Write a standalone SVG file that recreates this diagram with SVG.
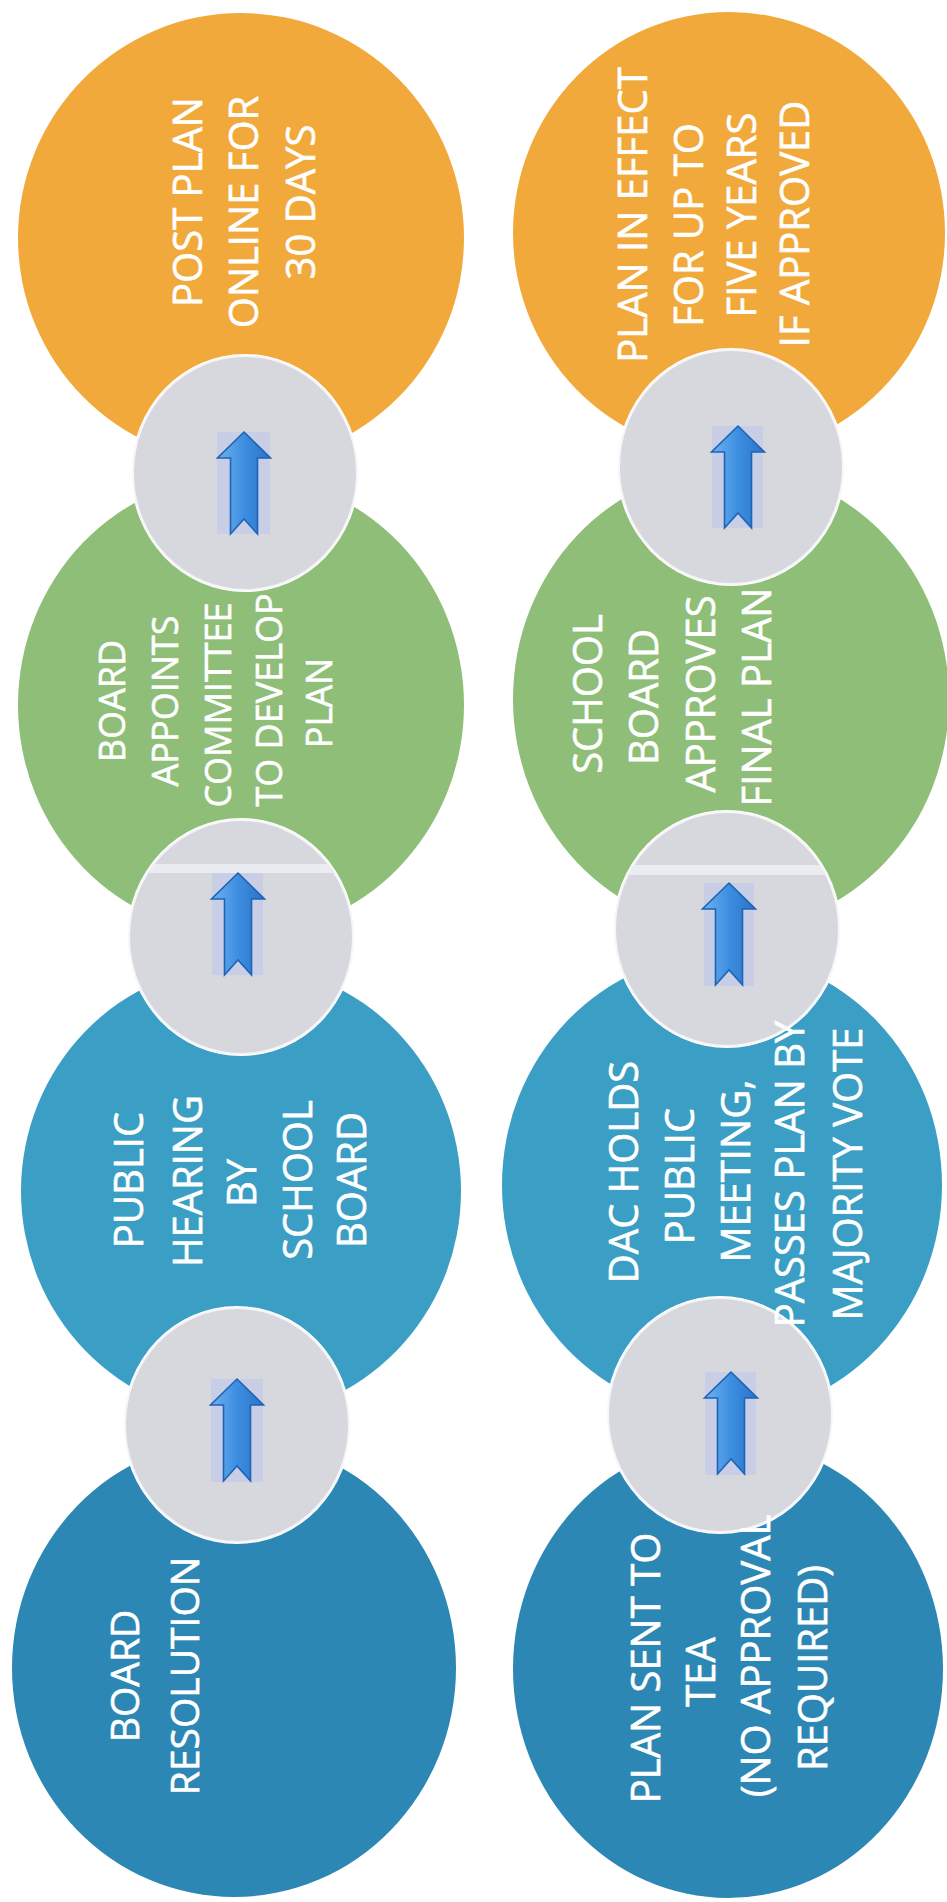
<svg xmlns="http://www.w3.org/2000/svg" xmlns:xlink="http://www.w3.org/1999/xlink" width="947" height="1902" viewBox="0 0 947 1902">
<style>
.orange{fill:#f1a93b}
.green{fill:#8ebe77}
.blue{fill:#3a9ec5}
.dblue{fill:#2d87b4}
.gray{fill:#d7d8de;stroke:#f6f6f8;stroke-width:2}
.hl{fill:#c6cce8;opacity:0.85}
.band{fill:#eceef3;opacity:0.9}
.arrow{fill:url(#arrowGrad);stroke:#1d63b6;stroke-width:1.6;stroke-linejoin:miter}
.lbl{font-family:"Open Sans","Liberation Sans",sans-serif;font-size:40px;fill:#ffffff;stroke:#ffffff;stroke-width:0.6;text-anchor:middle}
.f36{font-size:36px}
.f39{font-size:39px}
</style>
<defs>
<linearGradient id="arrowGrad" x1="0" y1="0" x2="1" y2="0">
<stop offset="0" stop-color="#6fb2ee"/>
<stop offset="0.5" stop-color="#3d8ee0"/>
<stop offset="1" stop-color="#2a72c8"/>
</linearGradient>
<path id="arrow" d="M0,0 L26.5,26 L13.5,26 L13.5,102 L0,87 L-13.5,102 L-13.5,26 L-26.5,26 Z"/>
<mask id="cut" maskUnits="userSpaceOnUse" x="0" y="0" width="947" height="1902">
<rect x="0" y="0" width="947" height="1902" fill="#fff"/>
<ellipse cx="245" cy="473" rx="114" ry="119" fill="#000"/>
<ellipse cx="241" cy="937" rx="114" ry="119" fill="#000"/>
<ellipse cx="237" cy="1425" rx="114" ry="119" fill="#000"/>
<ellipse cx="731" cy="467" rx="114" ry="119" fill="#000"/>
<ellipse cx="727" cy="929" rx="114" ry="119" fill="#000"/>
<ellipse cx="720" cy="1415" rx="114" ry="119" fill="#000"/>
</mask>
<clipPath id="cg2"><ellipse cx="241" cy="937" rx="112" ry="117"/></clipPath>
<clipPath id="cg5"><ellipse cx="727" cy="929" rx="112" ry="117"/></clipPath>
</defs>
<rect x="0" y="0" width="947" height="1902" fill="#ffffff"/>

<g id="connectors">
<g id="c1">
<ellipse class="gray" cx="245" cy="473" rx="112" ry="117"/>
<rect class="hl" x="217" y="432" width="53" height="102"/>
<use href="#arrow" class="arrow" x="244" y="432"/>
</g>
<g id="c2">
<ellipse class="gray" cx="241" cy="937" rx="112" ry="117"/>
<rect class="band" x="120" y="864" width="250" height="9" clip-path="url(#cg2)"/>
<rect class="hl" x="212" y="873" width="51" height="102"/>
<use href="#arrow" class="arrow" x="238" y="873"/>
</g>
<g id="c3">
<ellipse class="gray" cx="237" cy="1425" rx="112" ry="117"/>
<rect class="hl" x="211" y="1379" width="52" height="103"/>
<use href="#arrow" class="arrow" x="237" y="1379"/>
</g>
<g id="c4">
<ellipse class="gray" cx="731" cy="467" rx="112" ry="117"/>
<rect class="hl" x="712" y="426" width="51" height="102"/>
<use href="#arrow" class="arrow" x="738" y="426"/>
</g>
<g id="c5">
<ellipse class="gray" cx="727" cy="929" rx="112" ry="117"/>
<rect class="band" x="610" y="865" width="250" height="10" clip-path="url(#cg5)"/>
<rect class="hl" x="704" y="883" width="50" height="103"/>
<use href="#arrow" class="arrow" x="729" y="883"/>
</g>
<g id="c6">
<ellipse class="gray" cx="720" cy="1415" rx="112" ry="117"/>
<rect class="hl" x="705" y="1372" width="51" height="103" opacity="0.3"/>
<use href="#arrow" class="arrow" x="731" y="1372"/>
</g>
</g>

<g id="n-post-plan">
<ellipse class="orange" cx="241" cy="238" rx="223" ry="225" mask="url(#cut)"/>
<text class="lbl" transform="translate(202,202) rotate(-90)">POST PLAN</text>
<text class="lbl" transform="translate(258,212) rotate(-90)">ONLINE FOR</text>
<text class="lbl" transform="translate(315,202) rotate(-90)">30 DAYS</text>
</g>

<g id="n-board-appoints">
<ellipse class="green" cx="241" cy="705" rx="223" ry="230" mask="url(#cut)"/>
<text class="lbl f36" transform="translate(125,701) rotate(-90)">BOARD</text>
<text class="lbl f36" transform="translate(178,701) rotate(-90)">APPOINTS</text>
<text class="lbl f36" transform="translate(231,705) rotate(-90)">COMMITTEE</text>
<text class="lbl f36" transform="translate(282,700) rotate(-90)">TO DEVELOP</text>
<text class="lbl f36" transform="translate(332,703) rotate(-90)">PLAN</text>
</g>

<g id="n-public-hearing">
<ellipse class="blue" cx="241" cy="1191" rx="220" ry="226" mask="url(#cut)"/>
<text class="lbl" transform="translate(143,1180) rotate(-90)">PUBLIC</text>
<text class="lbl" transform="translate(202,1181) rotate(-90)">HEARING</text>
<text class="lbl" transform="translate(256,1183) rotate(-90)">BY</text>
<text class="lbl" transform="translate(312,1180) rotate(-90)">SCHOOL</text>
<text class="lbl" transform="translate(366,1180) rotate(-90)">BOARD</text>
</g>

<g id="n-board-resolution">
<ellipse class="dblue" cx="234" cy="1668" rx="222" ry="229" mask="url(#cut)"/>
<text class="lbl f39" transform="translate(139,1676) rotate(-90)">BOARD</text>
<text class="lbl f39" transform="translate(199,1676) rotate(-90)">RESOLUTION</text>
</g>

<g id="n-plan-in-effect">
<ellipse class="orange" cx="729" cy="233" rx="216" ry="221" mask="url(#cut)"/>
<text class="lbl" transform="translate(647,215) rotate(-90)">PLAN IN EFFECT</text>
<text class="lbl" transform="translate(703,225) rotate(-90)">FOR UP TO</text>
<text class="lbl" transform="translate(756,215) rotate(-90)">FIVE YEARS</text>
<text class="lbl" transform="translate(809,224) rotate(-90)">IF APPROVED</text>
</g>

<g id="n-school-board-approves">
<ellipse class="green" cx="731" cy="699" rx="218" ry="231" mask="url(#cut)"/>
<text class="lbl" transform="translate(602,694) rotate(-90)">SCHOOL</text>
<text class="lbl" transform="translate(658,697) rotate(-90)">BOARD</text>
<text class="lbl" transform="translate(715,694) rotate(-90)">APPROVES</text>
<text class="lbl" transform="translate(771,697) rotate(-90)">FINAL PLAN</text>
</g>

<g id="n-dac-holds">
<ellipse class="blue" cx="722" cy="1185" rx="220" ry="231" mask="url(#cut)"/>
<text class="lbl" transform="translate(638,1172) rotate(-90)">DAC HOLDS</text>
<text class="lbl" transform="translate(694,1176) rotate(-90)">PUBLIC</text>
<text class="lbl" transform="translate(750,1171) rotate(-90)">MEETING,</text>
<text class="lbl" transform="translate(804,1174) rotate(-90)">PASSES PLAN BY</text>
<text class="lbl" transform="translate(862,1174) rotate(-90)">MAJORITY VOTE</text>
</g>

<g id="n-plan-sent">
<ellipse class="dblue" cx="728" cy="1669" rx="215" ry="229" mask="url(#cut)"/>
<text class="lbl" transform="translate(660,1668) rotate(-90)">PLAN SENT TO</text>
<text class="lbl" transform="translate(715,1672) rotate(-90)">TEA</text>
<text class="lbl" transform="translate(770,1656) rotate(-90)">(NO APPROVAL</text>
<text class="lbl" transform="translate(827,1668) rotate(-90)">REQUIRED)</text>
</g>
</svg>
